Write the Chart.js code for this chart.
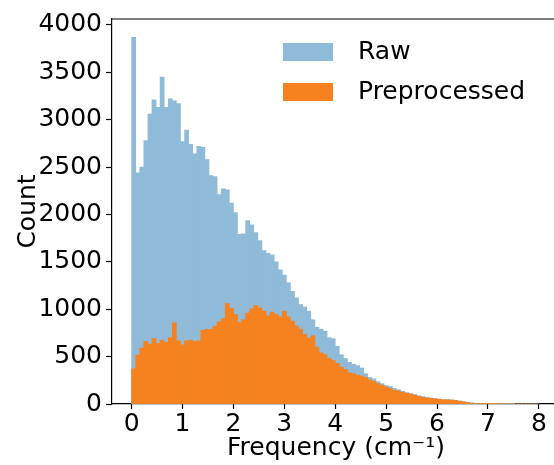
<!DOCTYPE html>
<html><head><meta charset="utf-8">
<script src="https://cdn.jsdelivr.net/npm/chart.js@4/dist/chart.umd.min.js"></script>
<style>html,body{margin:0;padding:0;background:#fff;overflow:hidden}#wrap{width:554px;height:465px;overflow:hidden;position:relative}canvas{display:block}</style>
</head><body><div id="wrap"><canvas id="c" width="560" height="465"></canvas></div>
<script>
// histogram bins: width 0.08, 100 bins starting at 0
const binWidth = 0.08;
const binCenters = Array.from({length: 100}, (_, i) => +(0.04 + i * binWidth).toFixed(2));
const rawCounts = [
  3870, 2440, 2500, 2780, 3060, 3210, 3130, 3450, 3130, 3220,
  3200, 3170, 2770, 2890, 2740, 2640, 2720, 2710, 2580, 2410,
  2400, 2210, 2270, 2260, 2120, 2020, 1790, 1795, 1935, 1890,
  1810, 1725, 1620, 1590, 1575, 1500, 1415, 1360, 1280, 1190,
  1120, 1050, 1025, 980, 890, 810, 790, 770, 700, 690,
  610, 520, 480, 440, 420, 405, 380, 320, 280, 265,
  235, 215, 195, 185, 165, 150, 135, 120, 110, 100,
  88, 78, 70, 64, 58, 52, 47, 46, 43, 40,
  32, 24, 17, 12, 8, 6, 4, 3, 2, 2,
  1, 1, 1, 1, 0, 0, 0, 0, 0, 0
];
const preCounts = [
  372, 517, 590, 660, 632, 691, 639, 674, 649, 701,
  857, 667, 625, 667, 674, 660, 667, 778, 788, 788,
  823, 868, 900, 1060, 1010, 945, 860, 890, 960, 1005,
  1040, 1015, 980, 930, 970, 945, 920, 980, 920, 875,
  825, 790, 735, 695, 720, 600, 540, 520, 480, 460,
  430, 390, 365, 330, 320, 305, 295, 280, 255, 240,
  215, 200, 180, 165, 145, 140, 125, 115, 105, 95,
  80, 72, 65, 60, 55, 50, 45, 45, 42, 38,
  30, 22, 15, 10, 6, 4, 3, 2, 1, 1,
  1, 0, 0, 0, 0, 0, 0, 0, 0, 0
];
const xTicks = [0, 1, 2, 3, 4, 5, 6, 7, 8];
const yTicks = [0, 500, 1000, 1500, 2000, 2500, 3000, 3500, 4000];
const seriesLabels = ['Raw', 'Preprocessed'];
const seriesColors = ['#8fbbd9', '#f5821f'];
const xTitle = 'Frequency (cm\u207B\u00B9)';
const yTitle = 'Count';

const FONT = {family: "'DejaVu Sans'", size: 25};

const frameLegend = {
  id: 'frameLegend',
  afterDraw(chart) {
    const ctx = chart.ctx;
    const a = chart.chartArea;
    ctx.save();
    ctx.strokeStyle = '#000';
    ctx.lineWidth = 1.2;
    ctx.beginPath();
    ctx.moveTo(a.left, a.top);
    ctx.lineTo(a.right, a.top);
    ctx.stroke();
    ctx.font = "25px 'DejaVu Sans'";
    ctx.textBaseline = 'middle';
    ctx.textAlign = 'left';
    seriesLabels.forEach((lab, i) => {
      const y = a.top + 24 + i * 40;
      ctx.fillStyle = seriesColors[i];
      ctx.fillRect(a.left + 171, y, 50, 18);
      ctx.fillStyle = '#000';
      ctx.fillText(lab, a.left + 246, y + 9);
    });
    ctx.restore();
  }
};

new Chart(document.getElementById('c'), {
  type: 'bar',
  data: {
    datasets: [
      {label: seriesLabels[0], data: binCenters.map((x, i) => ({x, y: rawCounts[i]})),
       backgroundColor: seriesColors[0], borderWidth: 0, order: 1,
       barPercentage: 1, categoryPercentage: 1, grouped: false},
      {label: seriesLabels[1], data: binCenters.map((x, i) => ({x, y: preCounts[i]})),
       backgroundColor: seriesColors[1], borderWidth: 0, order: 0,
       barPercentage: 1, categoryPercentage: 1, grouped: false}
    ]
  },
  options: {
    responsive: false,
    animation: false,
    devicePixelRatio: 1,
    layout: {padding: {top: 17, left: 0, right: 0, bottom: 0}},
    plugins: {legend: {display: false}, title: {display: false}, tooltip: {enabled: false}},
    scales: {
      x: {
        type: 'linear', position: 'bottom', min: -0.385, max: 8.415, offset: false,
        grid: {offset: false, drawOnChartArea: false, drawTicks: true, tickLength: 5, tickWidth: 1.2, tickColor: '#000'},
        border: {display: true, color: '#000', width: 1.2},
        ticks: {font: FONT, color: '#000', padding: 0, maxRotation: 0, autoSkip: false,
                callback: v => String(v)},
        afterBuildTicks: s => { s.ticks = xTicks.map(v => ({value: v})); },
        afterFit: s => { s.height = 61; },
        title: {display: true, text: xTitle, font: FONT, color: '#000', padding: {top: 0, bottom: 2}}
      },
      y: {
        type: 'linear', position: 'left', min: 0, max: 4063,
        grid: {drawOnChartArea: false, drawTicks: true, tickLength: 6, tickWidth: 1.2, tickColor: '#000'},
        border: {display: true, color: '#000', width: 1.2},
        ticks: {font: FONT, color: '#000', padding: 4, callback: v => String(v)},
        afterBuildTicks: s => { s.ticks = yTicks.map(v => ({value: v})); },
        afterFit: s => { s.width = 112; },
        title: {display: true, text: yTitle, font: FONT, color: '#000', padding: {top: 13, bottom: 0}}
      }
    }
  },
  plugins: [frameLegend]
});
</script>
</body></html>
